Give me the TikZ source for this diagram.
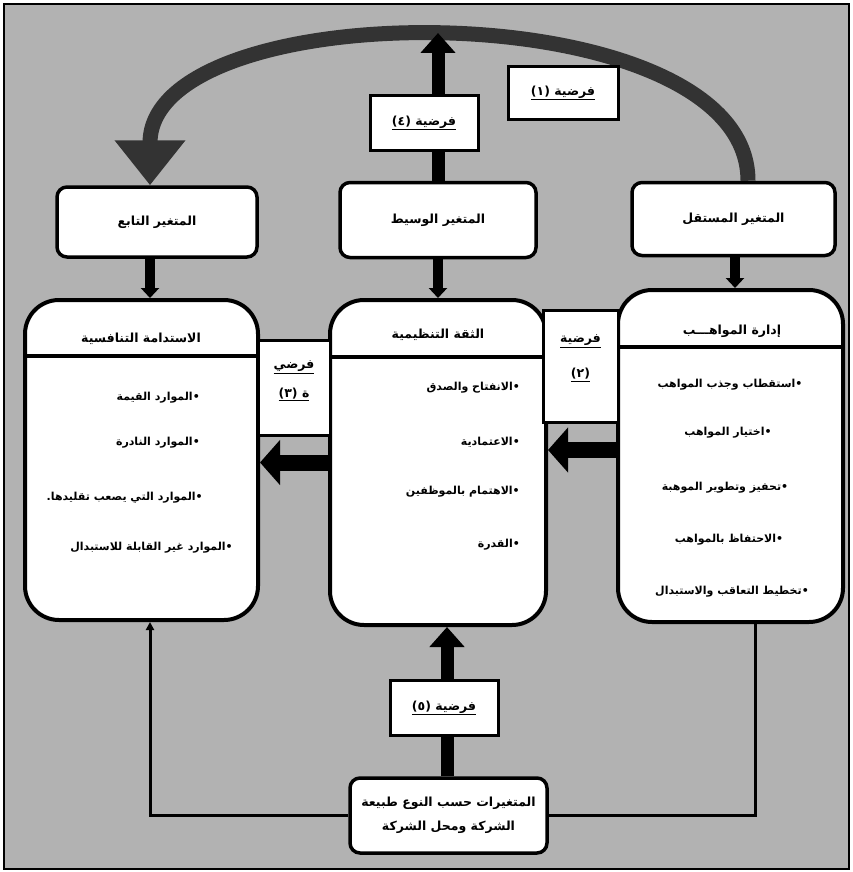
\documentclass[tikz,border=0pt]{standalone}
\usepackage{fontspec}
\newfontfamily\arabicfont[Script=Arabic]{DejaVu Sans}
\TeXXeTstate=1
\usetikzlibrary{arrows.meta}
\newcommand{\artxt}[1]{\beginR #1\endR}
\begin{document}
\begin{tikzpicture}[x=1pt, y=-1pt,
    font=\arabicfont\bfseries\fontsize{12.5}{15}\selectfont,
    varbox/.style={draw, line width=3.5pt, fill=white, rounded corners=10pt, inner sep=0pt},
    bigbox/.style={draw, line width=4pt, fill=white, rounded corners=34pt, inner sep=0pt},
    hypbox/.style={draw, line width=3pt, fill=white, inner sep=0pt, align=center},
    item/.style={inner sep=0pt, font=\arabicfont\bfseries\fontsize{11}{13}\selectfont},
    arcarrow/.style={draw=black!80, line width=15pt, -{Triangle[width=68pt,length=45pt]}},
    fatarrow/.style={line width=13pt, -{Triangle[width=34pt,length=20pt]}},
    sidearrow/.style={line width=16pt, -{Triangle[width=44pt,length=20pt]}},
    shortarrow/.style={line width=10pt, -{Triangle[width=18pt,length=10pt]}},
    thinline/.style={line width=3pt}]
    \useasboundingbox ( 0, 0 ) rectangle ( 852, 872 );

    % фон
    \draw [line width=2.5pt, fill=black!30] ( 4, 4 ) rectangle ( 849, 869 );

    % переменные
    \node [varbox, minimum width=200pt, minimum height=70pt] (dep) at ( 157, 222 ) {\artxt{المتغير التابع}};
    \node [varbox, minimum width=196pt, minimum height=75pt] (med) at ( 438, 220 ) {\artxt{المتغير الوسيط}};
    \node [varbox, minimum width=203pt, minimum height=73pt] (ind) at ( 733.5, 219 ) {\artxt{المتغير المستقل}};

    % дуга
    \draw [arcarrow] ([xshift=14.5pt]ind.north) .. controls ( 748, -10 ) and ( 150, -10 ) .. ([xshift=-7pt]dep.north);
    \coordinate (medtop) at ( 438, 33 );
    \draw [fatarrow] (med.north) -- (medtop);

    % блоки
    \node [bigbox, minimum width=233pt, minimum height=320pt] (sust) at ( 141.5, 460 ) {};
    \node [bigbox, minimum width=216pt, minimum height=325pt] (trust) at ( 438, 462.5 ) {};
    \node [bigbox, minimum width=225pt, minimum height=332pt] (talent) at ( 730.5, 456 ) {};
    \draw [line width=3.5pt] ([yshift=-58pt]sust.north west) -- ([yshift=-58pt]sust.north east);
    \draw [line width=3.5pt] ([yshift=-59pt]trust.north west) -- ([yshift=-59pt]trust.north east);
    \draw [line width=3.5pt] ([yshift=-59pt]talent.north west) -- ([yshift=-59pt]talent.north east);

    % стрелки вниз
    \draw [shortarrow] ([xshift=-7pt]dep.south) -- ([xshift=8.5pt]sust.north);
    \draw [shortarrow] (med.south) -- (trust.north);
    \draw [shortarrow] ([xshift=1.5pt]ind.south) -- ([xshift=4.5pt]talent.north);

    % заголовки
    \node (susthead) at ( 141, 339 ) {\artxt{الاستدامة التنافسية}};
    \node (trusthead) at ( 438, 335 ) {\artxt{الثقة التنظيمية}};
    \node (talenthead) at ( 732, 331 ) {\artxt{إدارة المواهـــب}};

    % пункты
    \node [item, anchor=east] (s1) at ( 200, 398 ) {\artxt{•الموارد القيمة}};
    \node [item, anchor=east] (s2) at ( 200, 443 ) {\artxt{•الموارد النادرة}};
    \node [item, anchor=east] (s3) at ( 203, 498 ) {\artxt{•الموارد التي يصعب تقليدها.}};
    \node [item, anchor=east] (s4) at ( 233, 548 ) {\artxt{•الموارد غير القابلة للاستبدال}};

    \node [item, anchor=east] (t1) at ( 520, 388 ) {\artxt{•الانفتاح والصدق}};
    \node [item, anchor=east] (t2) at ( 520, 442 ) {\artxt{•الاعتمادية}};
    \node [item, anchor=east] (t3) at ( 520, 492 ) {\artxt{•الاهتمام بالموظفين}};
    \node [item, anchor=east] (t4) at ( 520, 545 ) {\artxt{•القدرة}};

    \node [item] (m1) at ( 730, 385 ) {\artxt{•استقطاب وجذب المواهب}};
    \node [item] (m2) at ( 728, 433 ) {\artxt{•اختيار المواهب}};
    \node [item] (m3) at ( 725, 488 ) {\artxt{•تحفيز وتطوير الموهبة}};
    \node [item] (m4) at ( 729, 540 ) {\artxt{•الاحتفاظ بالمواهب}};
    \node [item] (m5) at ( 732, 592 ) {\artxt{•تخطيط التعاقب والاستبدال}};

    % стрелки вбок
    \coordinate (tw) at ([yshift=6pt]talent.west);
    \draw [sidearrow] (tw) -- (trust.east |- tw);
    \draw [sidearrow] (trust.west) -- (sust.east |- trust.west);

    % нижний блок
    \node [varbox, minimum width=197pt, minimum height=75pt, align=center] (firm) at ( 448.5, 815.5 )
        {\artxt{المتغيرات حسب النوع طبيعة}\\[9pt]\artxt{الشركة ومحل الشركة}};
    \draw [fatarrow] ([xshift=-1.5pt]firm.north) -- ([xshift=9pt]trust.south);
    \draw [thinline, -{Triangle[width=8pt,length=8pt]}] (firm.west) -| ([xshift=8.5pt]sust.south);
    \draw [thinline] (firm.east) -| ([xshift=24.5pt]talent.south);

    % гипотезы
    \node [hypbox, minimum width=110pt, minimum height=53pt] (h1) at ( 563, 93 ) {\underline{\artxt{فرضية (١)}}};
    \node [hypbox, minimum width=108pt, minimum height=54pt] (h4) at ( 424, 123 ) {\underline{\artxt{فرضية (٤)}}};
    \node [hypbox, minimum width=75pt, minimum height=112pt] (h2) at ( 580.5, 366 )
        {\underline{\artxt{فرضية}}\\[20pt]\underline{\artxt{(٢)}}\\[4pt]\mbox{}};
    \node [hypbox, minimum width=72pt, minimum height=95pt] (h3) at ( 294, 388 )
        {\underline{\artxt{فرضي}}\\[14pt]\underline{\artxt{ة (٣)}}\\[3pt]\mbox{}};
    \node [hypbox, minimum width=108pt, minimum height=55pt] (h5) at ( 444, 708 ) {\underline{\artxt{فرضية (٥)}}};
\end{tikzpicture}
\end{document}
